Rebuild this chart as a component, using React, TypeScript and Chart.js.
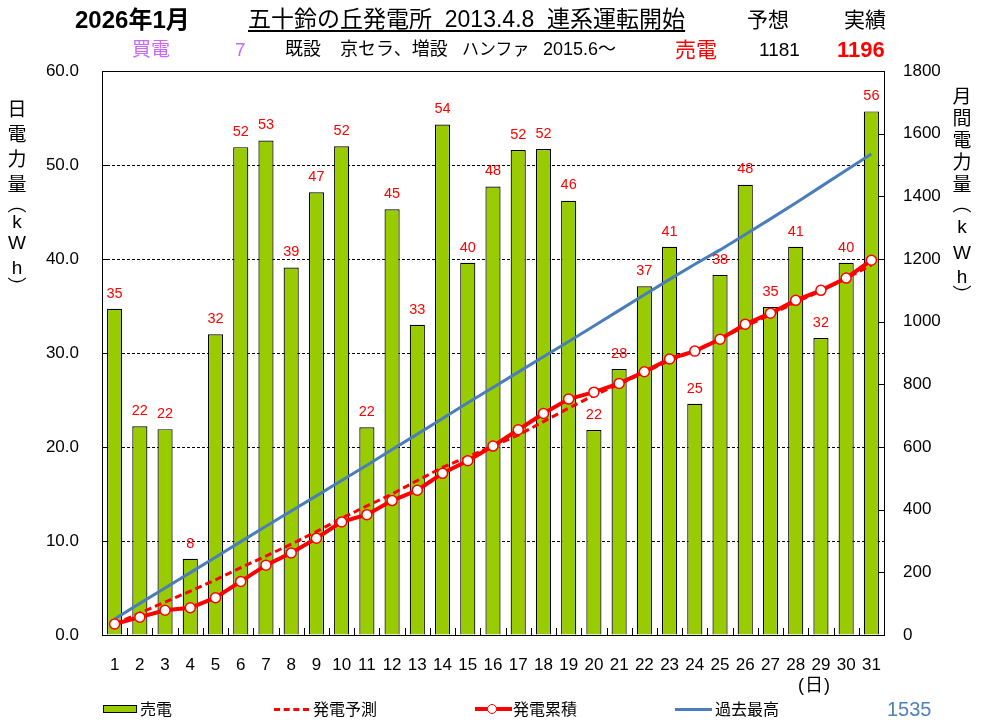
import React, { useEffect, useRef } from "react";
import { Chart, registerables } from "chart.js";

Chart.register(...registerables);

const dayLabels = ["1","2","3","4","5","6","7","8","9","10","11","12","13","14","15","16","17","18","19","20","21","22","23","24","25","26","27","28","29","30","31"];
const dailySales = [34.7,22.2,21.9,8.1,32.0,51.9,52.6,39.1,47.1,52.0,22.1,45.3,33.0,54.3,39.6,47.7,51.6,51.7,46.2,21.8,28.3,37.1,41.3,24.6,38.3,47.9,34.9,41.3,31.6,39.6,55.7];
const cumulative = [35,57,79,87,119,171,223,262,309,361,384,429,462,516,556,603,655,707,753,775,803,840,881,906,944,992,1027,1068,1100,1139,1196];
const forecast = [35,70,105,140,176,215,252,290,330,373,412,450,493,535,569,603,638,681,724,765,800,838,876,907,945,985,1022,1062,1098,1138,1181];
const pastMax = [51,101,150,199,248,298,347,396,444,493,542,592,641,691,741,790,839,888,937,986,1036,1086,1135,1183,1229,1278,1328,1379,1431,1483,1535];
const leftTicksMax = 60;
const rightTicksMax = 1800;

const LATIN = '"Liberation Sans", Arial, "Noto Sans CJK JP", sans-serif';
const JP = '"Liberation Sans", "Noto Sans CJK JP", sans-serif';

const framePlugin = {
  id: "frame",
  afterDatasetsDraw(chart: any) {
    const { ctx, chartArea: a, scales } = chart;
    ctx.save();
    ctx.strokeStyle = "#000";
    ctx.lineWidth = 1;
    ctx.setLineDash([]);
    ctx.beginPath();
    const xs = scales.x;
    for (let i = 0; i <= dayLabels.length; i++) {
      const px = Math.round(xs.getPixelForValue(i - 0.5)) + 0.5;
      ctx.moveTo(px, a.bottom);
      ctx.lineTo(px, a.bottom - 7);
    }
    const r = scales.y1;
    r.ticks.forEach((t: any) => {
      const py = Math.round(r.getPixelForValue(t.value)) + 0.5;
      ctx.moveTo(a.right, py);
      ctx.lineTo(a.right - 5, py);
    });
    const l = scales.y;
    l.ticks.forEach((t: any) => {
      const py = Math.round(l.getPixelForValue(t.value)) + 0.5;
      ctx.moveTo(a.left, py);
      ctx.lineTo(a.left + 5, py);
    });
    ctx.stroke();
    ctx.strokeRect(Math.round(a.left) + 0.5, Math.round(a.top) + 0.5, Math.round(a.right - a.left), Math.round(a.bottom - a.top));
    const meta = chart.getDatasetMeta(0);
    ctx.fillStyle = "#FF0000";
    ctx.font = `14.5px ${LATIN}`;
    ctx.textAlign = "center";
    ctx.textBaseline = "bottom";
    meta.data.forEach((el: any, i: number) => {
      ctx.fillText(String(Math.round(dailySales[i])), el.x, el.y - 8);
    });
    ctx.restore();
  },
};

function VText({ chars, left, top }: { chars: [string, number][]; left: number; top: number }) {
  return (
    <div style={{ position: "absolute", left, top, width: 30, display: "flex", flexDirection: "column", alignItems: "center", fontFamily: JP, fontSize: 19, color: "#000" }}>
      {chars.map(([c, h], i) => (
        <div key={i} style={{ height: h, lineHeight: `${h}px`, textAlign: "center" }}>{c}</div>
      ))}
    </div>
  );
}

function T({ x, y, size, color = "#000", bold = false, children, extra = {} }: any) {
  return (
    <div style={{ position: "absolute", left: x, top: y - size * 0.6, fontSize: size, lineHeight: `${size * 1.2}px`, color, fontWeight: bold ? "bold" : "normal", fontFamily: JP, whiteSpace: "pre", ...extra }}>
      {children}
    </div>
  );
}

export default function App() {
  const ref = useRef<HTMLCanvasElement | null>(null);
  useEffect(() => {
    if (!ref.current) return;
    const chart = new Chart(ref.current, {
      type: "bar",
      data: {
        labels: dayLabels,
        datasets: [
          {
            type: "bar",
            label: "売電",
            data: dailySales,
            backgroundColor: "#99CC00",
            borderColor: "#000",
            borderWidth: 1.2,
            barPercentage: 0.6,
            categoryPercentage: 1,
            yAxisID: "y",
            order: 5,
          },
          {
            type: "line",
            label: "発電予測",
            data: forecast,
            borderColor: "#FF0000",
            borderWidth: 3,
            borderDash: [7, 4],
            pointRadius: 0,
            fill: false,
            yAxisID: "y1",
            order: 3,
          },
          {
            type: "line",
            label: "過去最高",
            data: pastMax,
            borderColor: "#4A7EBB",
            borderWidth: 3,
            pointRadius: 0,
            fill: false,
            yAxisID: "y1",
            order: 2,
          },
          {
            type: "line",
            label: "発電累積",
            data: cumulative,
            borderColor: "#FF0000",
            borderWidth: 4,
            pointRadius: 5,
            pointBackgroundColor: "#FFFFFF",
            pointBorderColor: "#FF0000",
            pointBorderWidth: 1.5,
            fill: false,
            yAxisID: "y1",
            order: 1,
          },
        ] as any,
      },
      options: {
        responsive: false,
        animation: false,
        devicePixelRatio: 1,
        layout: { padding: { left: 0, right: 0, top: 71, bottom: 0 } },
        plugins: { legend: { display: false }, title: { display: false }, tooltip: { enabled: false } },
        scales: {
          x: {
            type: "category",
            offset: true,
            grid: { display: false },
            border: { display: false },
            ticks: { color: "#000", font: { size: 17, family: LATIN }, padding: 12, maxRotation: 0, autoSkip: false },
            afterFit: (s: any) => { s.height = 90; },
          },
          y: {
            position: "left",
            min: 0,
            max: leftTicksMax,
            ticks: { stepSize: 10, color: "#000", font: { size: 17, family: LATIN }, padding: 23, callback: (v: any) => Number(v).toFixed(1) },
            grid: { color: "#000", lineWidth: 1, drawTicks: false },
            border: { display: false, dash: [3, 2] },
            afterFit: (s: any) => { s.width = 102; },
          },
          y1: {
            position: "right",
            min: 0,
            max: rightTicksMax,
            ticks: { stepSize: 200, color: "#000", font: { size: 17, family: LATIN }, padding: 19, callback: (v: any) => String(v) },
            grid: { display: false, drawTicks: false },
            border: { display: false },
            afterFit: (s: any) => { s.width = 97; },
          },
        },
      } as any,
      plugins: [framePlugin],
    });
    return () => chart.destroy();
  }, []);

  const leftChars: [string, number][] = [["日", 24], ["電", 25], ["力", 26], ["量", 24], ["︵", 16], ["k", 18], ["W", 24], ["h", 25], ["︶", 15]];
  const rightChars: [string, number][] = [["月", 22], ["間", 22], ["電", 22], ["力", 22], ["量", 22], ["︵", 18], ["k", 26], ["W", 25], ["h", 24], ["︶", 14]];

  return (
    <div style={{ position: "absolute", left: 0, top: 0, width: 981, height: 725, background: "#fff", overflow: "hidden" }}>
      <canvas ref={ref} width={981} height={725} style={{ position: "absolute", left: 0, top: 0, width: 981, height: 725 }} />
      <T x={75} y={20} size={24} bold>2026年1月</T>
      <T x={248} y={20} size={23} extra={{ textDecoration: "underline", textUnderlineOffset: "3px", textDecorationThickness: "1.5px" }}>{"五十鈴の丘発電所  2013.4.8  連系運転開始"}</T>
      <T x={747} y={20} size={21}>予想</T>
      <T x={844} y={20} size={21}>実績</T>
      <T x={132} y={50} size={19} color="#CC66FF">買電</T>
      <T x={235} y={50} size={19} color="#CC66FF">7</T>
      <T x={285} y={50} size={18}>既設</T>
      <T x={340} y={50} size={18}>京セラ、増設</T>
      <T x={462} y={50} size={17}>ハンファ</T>
      <T x={543} y={50} size={18}>2015.6～</T>
      <T x={675} y={50} size={21} color="#FF0000">売電</T>
      <T x={759} y={50} size={19}>1181</T>
      <T x={837} y={50} size={22} color="#FF0000" bold>1196</T>
      <VText chars={leftChars} left={2} top={98} />
      <VText chars={rightChars} left={947} top={86} />
      <T x={798} y={686} size={18} extra={{ letterSpacing: "1px" }}>(日)</T>
      <div style={{ position: "absolute", left: 103, top: 705, width: 32, height: 6, background: "#99CC00", border: "1px solid #000" }} />
      <T x={140} y={710} size={16}>売電</T>
      <div style={{ position: "absolute", left: 274, top: 708, width: 35, height: 0, borderTop: "3px dashed #FF0000" }} />
      <T x={313} y={710} size={16}>発電予測</T>
      <div style={{ position: "absolute", left: 475, top: 707, width: 37, height: 4, background: "#FF0000" }} />
      <div style={{ position: "absolute", left: 487, top: 704, width: 8, height: 8, borderRadius: 6, background: "#fff", border: "1.5px solid #FF0000" }} />
      <T x={513} y={710} size={16}>発電累積</T>
      <div style={{ position: "absolute", left: 675, top: 708, width: 37, height: 3, background: "#4A7EBB" }} />
      <T x={715} y={710} size={16}>過去最高</T>
      <T x={887} y={709} size={20} color="#4F81BD">1535</T>
    </div>
  );
}
